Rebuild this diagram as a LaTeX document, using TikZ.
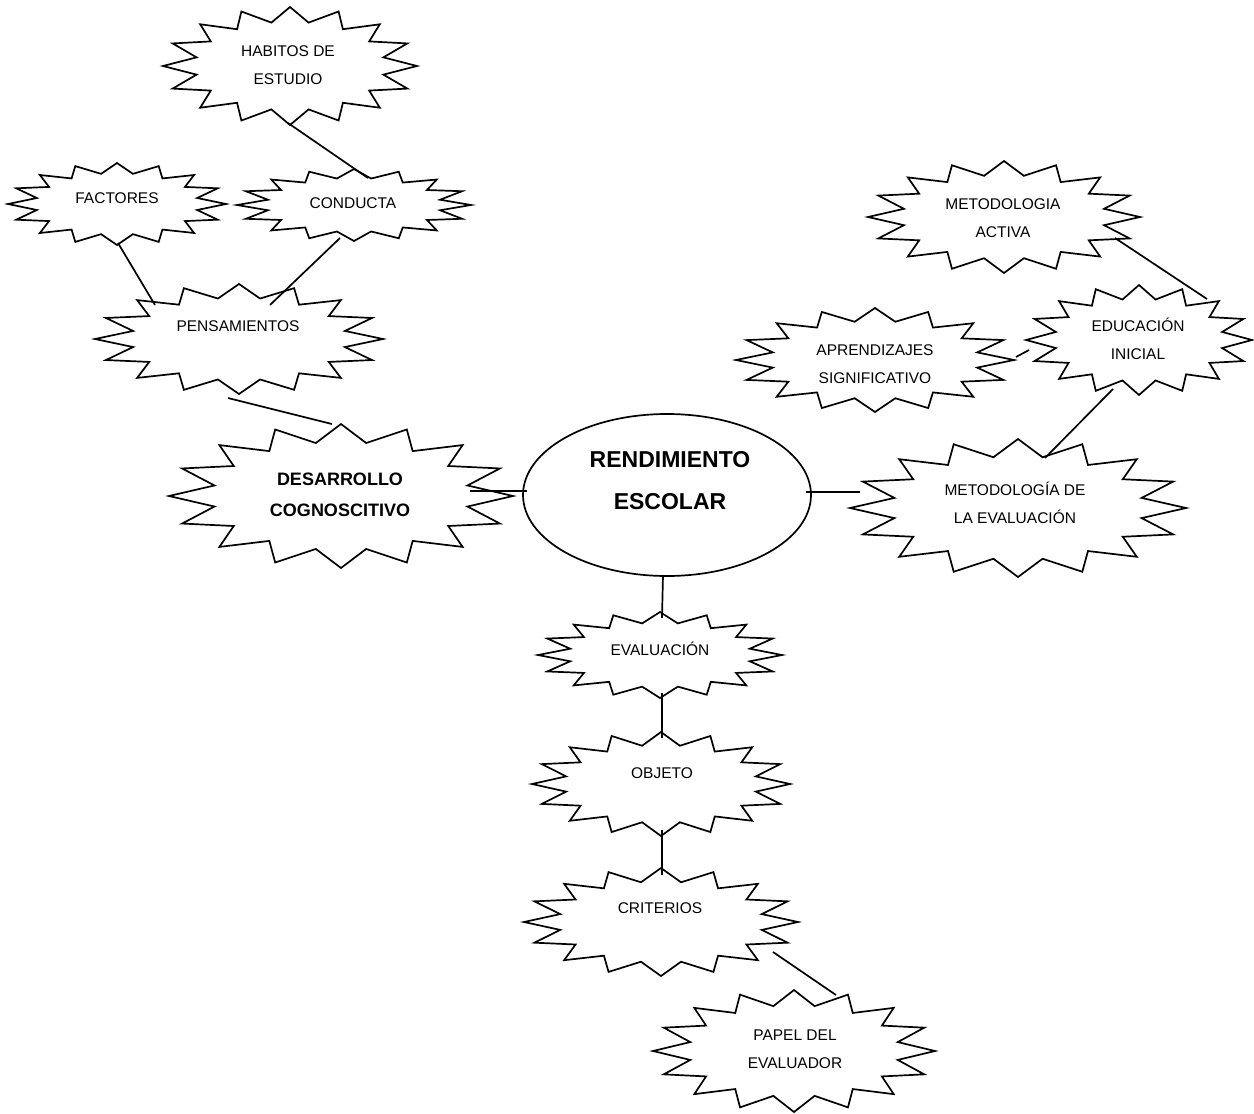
\documentclass[tikz,border=0pt]{standalone}
\usepackage{fontspec}
\setmainfont{Liberation Sans}
\newcommand\burstshape[4]{\draw[burstline] plot[samples at={0,...,31}, variable=\k] ({#1+#3*(1-0.25*mod(\k,2))*cos(\k*11.25)}, {#2+#4*(1-0.25*mod(\k,2))*sin(\k*11.25)}) -- cycle;}
\begin{document}
\begin{tikzpicture}[x=1pt,y=-1pt,
  burstline/.style={line width=1.7pt, line join=miter, fill=white},
  link/.style={line width=1.7pt},
  lbl/.style={align=center, inner sep=0pt, font=\fontsize{15.5}{28}\selectfont},
  blbl/.style={align=center, inner sep=0pt, font=\fontsize{18}{31}\selectfont\bfseries},
  elbl/.style={align=center, inner sep=0pt, font=\fontsize{23}{42}\selectfont\bfseries},
]
\useasboundingbox (0,0) rectangle (1254,1114);
% shapes
\burstshape{290}{66}{127}{59}
\burstshape{117}{204}{109}{41}
\burstshape{354}{205}{117}{36}
\burstshape{239}{339}{144}{55}
\burstshape{341}{496}{172}{72}
\draw[burstline] (667,495) ellipse [x radius=144pt, y radius=81pt];
\burstshape{1004}{217}{136}{56}
\burstshape{875}{360}{139}{52}
\burstshape{1139}{340}{113}{55}
\burstshape{1018}{508}{168}{69}
\burstshape{660}{655}{122}{43}
\burstshape{661}{784}{129}{52}
\burstshape{661}{922}{137}{54}
\burstshape{794}{1051}{141}{61}
% labels
\node[lbl] (hab) at (288,65) {HABITOS DE\\ESTUDIO};
\node[lbl] (fac) at (117,198) {FACTORES};
\node[lbl] (con) at (353,203) {CONDUCTA};
\node[lbl] (pen) at (238,326) {PENSAMIENTOS};
\node[blbl] (des) at (340,495) {DESARROLLO\\COGNOSCITIVO};
\node[elbl] (ren) at (670,481) {RENDIMIENTO\\ESCOLAR};
\node[lbl] (mea) at (1003,218) {METODOLOGIA\\ACTIVA};
\node[lbl] (apr) at (875,364) {APRENDIZAJES\\SIGNIFICATIVO};
\node[lbl] (edu) at (1138,339) {EDUCACIÓN\\INICIAL};
\node[lbl] (mev) at (1015,503) {METODOLOGÍA DE\\LA EVALUACIÓN};
\node[lbl] (eva) at (660,649) {EVALUACIÓN};
\node[lbl] (obj) at (662,773) {OBJETO};
\node[lbl] (cri) at (660,908) {CRITERIOS};
\node[lbl] (pap) at (795,1049) {PAPEL DEL\\EVALUADOR};
% connector ends
\coordinate (hab-s) at (288,123);
\coordinate (con-n) at (368,178);
\coordinate (fac-s) at (118,243);
\coordinate (pen-nw) at (155,305);
\coordinate (con-s) at (340,238);
\coordinate (pen-ne) at (270,305);
\coordinate (pen-s) at (228,398);
\coordinate (des-n) at (332,424);
\coordinate (des-e) at (470,491);
\coordinate (ren-w) at (527,491);
\coordinate (ren-e) at (806,492);
\coordinate (mev-w) at (860,492);
\coordinate (mev-n) at (1045,458);
\coordinate (edu-s) at (1113,389);
\coordinate (apr-e) at (1016,357);
\coordinate (edu-w) at (1029,350);
\coordinate (mea-se) at (1115,238);
\coordinate (edu-ne) at (1207,299);
\coordinate (ren-s) at (663,575);
\coordinate (eva-n) at (662,618);
\coordinate (eva-s) at (662,693);
\coordinate (obj-n) at (662,738);
\coordinate (obj-s) at (662,830);
\coordinate (cri-n) at (662,875);
\coordinate (cri-se) at (773,952);
\coordinate (pap-n) at (836,995);
% connectors
\draw[link] (hab-s) -- (con-n);
\draw[link] (fac-s) -- (pen-nw);
\draw[link] (con-s) -- (pen-ne);
\draw[link] (pen-s) -- (des-n);
\draw[link] (des-e) -- (ren-w);
\draw[link] (ren-e) -- (mev-w);
\draw[link] (mev-n) -- (edu-s);
\draw[link] (apr-e) -- (edu-w);
\draw[link] (mea-se) -- (edu-ne);
\draw[link] (ren-s) -- (eva-n);
\draw[link] (eva-s) -- (obj-n);
\draw[link] (obj-s) -- (cri-n);
\draw[link] (cri-se) -- (pap-n);
\end{tikzpicture}
\end{document}
